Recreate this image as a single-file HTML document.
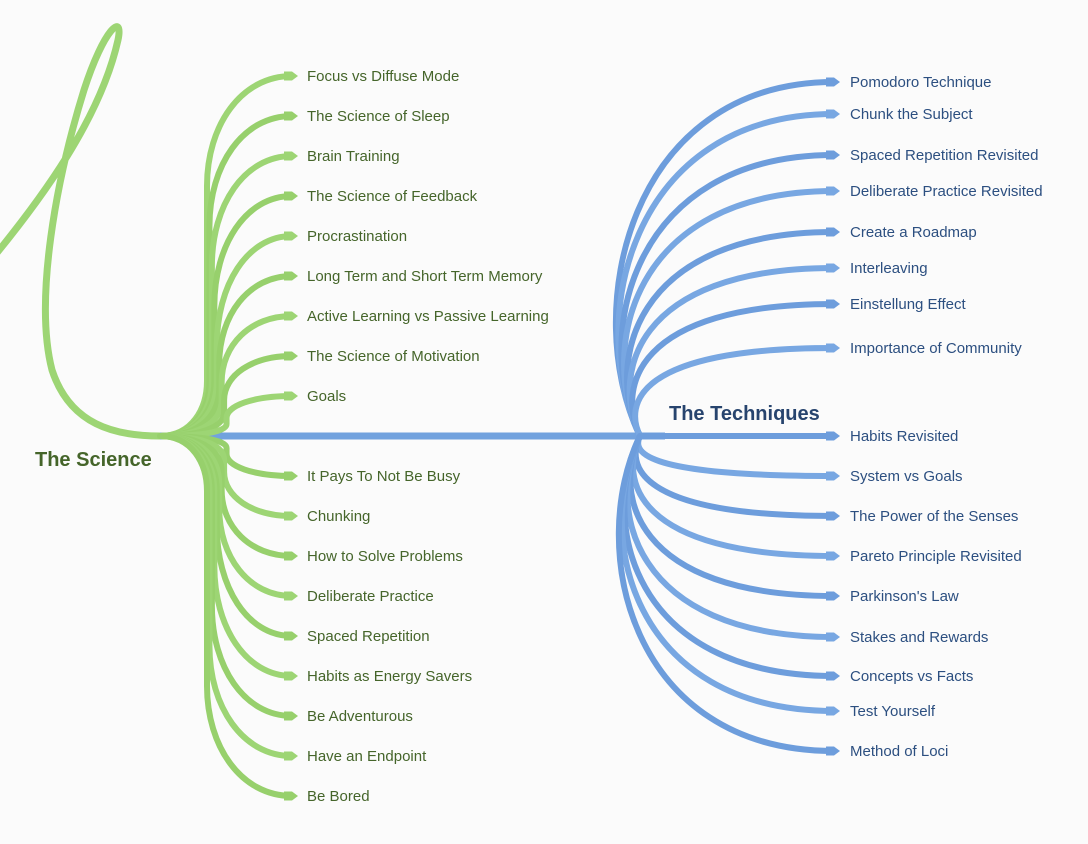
<!DOCTYPE html>
<html><head><meta charset="utf-8"><style>
html,body{margin:0;padding:0;background:#fbfbfb;}
svg{display:block;font-family:"Liberation Sans",sans-serif;}
.g{fill:#45652a;font-size:15px;}
.b{fill:#2c4f80;font-size:15px;}
</style></head><body>
<svg id="map" width="1088" height="844" viewBox="0 0 1088 844">
<rect width="1088" height="844" fill="#fbfbfb"/>
<path d="M-4,254 C40,200 100,120 118,40 C124,12 104,28 84,90 C56,180 34,300 52,370 C70,425 115,436 160,436" fill="none" stroke="#9dd574" stroke-width="7" stroke-linecap="round"/>
<g id="links"></g>
<text x="35" y="466" font-size="20" font-weight="bold" fill="#45652a">The Science</text>
<text x="669" y="420" font-size="20" font-weight="bold" fill="#27446e">The Techniques</text>
</svg>
<script>
const scienceTopics=["Focus vs Diffuse Mode","The Science of Sleep","Brain Training","The Science of Feedback","Procrastination","Long Term and Short Term Memory","Active Learning vs Passive Learning","The Science of Motivation","Goals","It Pays To Not Be Busy","Chunking","How to Solve Problems","Deliberate Practice","Spaced Repetition","Habits as Energy Savers","Be Adventurous","Have an Endpoint","Be Bored"];
const scienceY=[76,116,156,196,236,276,316,356,396,476,516,556,596,636,676,716,756,796];
const techTopics=["Pomodoro Technique","Chunk the Subject","Spaced Repetition Revisited","Deliberate Practice Revisited","Create a Roadmap","Interleaving","Einstellung Effect","Importance of Community","Habits Revisited","System vs Goals","The Power of the Senses","Pareto Principle Revisited","Parkinson's Law","Stakes and Rewards","Concepts vs Facts","Test Yourself","Method of Loci"];
const techY=[82,114,155,191,232,268,304,348,436,476,516,556,596,637,676,711,751];
const NS="http://www.w3.org/2000/svg";
const links=document.getElementById('links');
const svg=document.getElementById('map');
function mk(tag,attrs){const e=document.createElementNS(NS,tag);for(const k in attrs)e.setAttribute(k,attrs[k]);return e;}
function arrow(x,y,col){return mk('polygon',{points:(x-8)+','+(y-4.5)+' '+x+','+(y-4.5)+' '+(x+6)+','+y+' '+x+','+(y+4.5)+' '+(x-8)+','+(y+4.5),fill:col});}
const main=mk('path',{d:'M160,436 L665,436',stroke:'#72a2de','stroke-width':7,fill:'none'});


links.appendChild(main);
const gc=['#9dd574','#97d06c'];
scienceTopics.forEach((t,i)=>{
  const y=scienceY[i];const col=gc[i%2];
  const dy=y-436;const ad=Math.abs(dy);const s=Math.sign(dy);
  const xv=207+Math.max(0,1-ad/360)*22;
  const r=Math.min(ad*0.55,110);
  const ym=y-s*r;
  const k=Math.min(ad*0.3,55);
  const d=`M160,436 C${xv-15},436 ${xv},${436+s*k*0.5} ${xv},${436+s*k} L${xv},${ym} C${xv},${y-s*r*0.45} ${xv+(292-xv)*0.4},${y} 292,${y}`;
  const p=mk('path',{d:d,stroke:col,'stroke-width':6,fill:'none','stroke-linecap':'round'});
  
  
  links.appendChild(p);
  const a=arrow(292,y,col);
  
  
  links.appendChild(a);
  const tx=mk('text',{x:307,y:y+5,class:'g'});tx.textContent=t;
  
  
  svg.appendChild(tx);
});
const bc=['#6d9ddc','#78a7e2'];
techTopics.forEach((t,i)=>{
  const y=techY[i];const col=bc[i%2];
  const d=Math.abs(y-436);
  const c1x=640-Math.min(d,360)*0.17;
  const p=mk('path',{d:`M640,436 C${c1x},${436+(y-436)*0.35} ${635-d*0.02},${y} 834,${y}`,stroke:col,'stroke-width':6,fill:'none','stroke-linecap':'round'});
  
  
  links.appendChild(p);
  const a=arrow(834,y,col);
  
  
  links.appendChild(a);
  const tx=mk('text',{x:850,y:y+5,class:'b'});tx.textContent=t;
  
  
  svg.appendChild(tx);
});
</script>
</body></html>
